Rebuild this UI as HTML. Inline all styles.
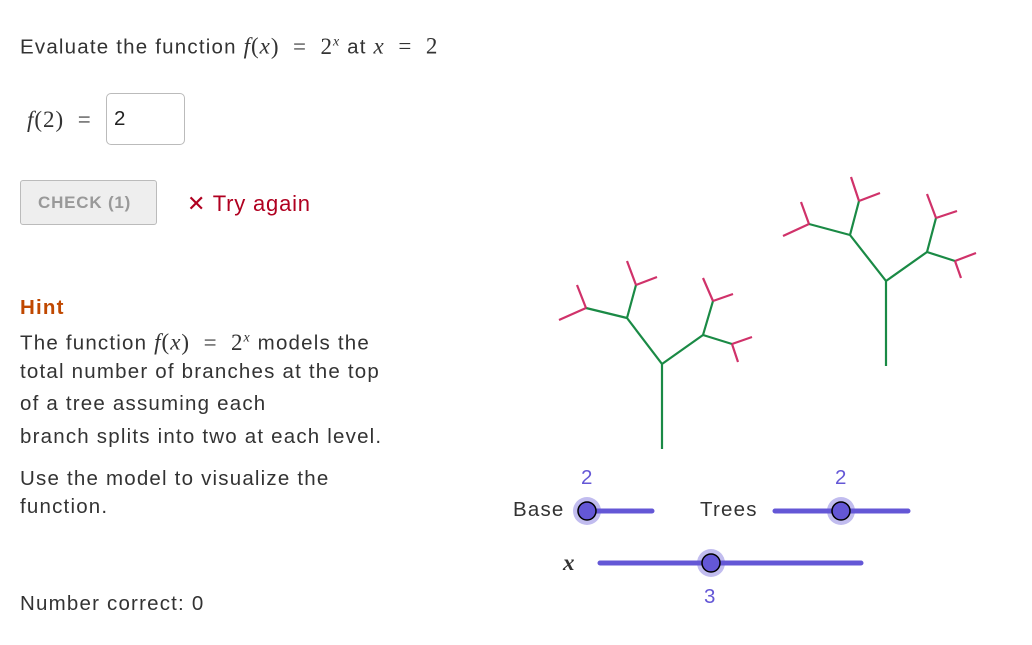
<!DOCTYPE html>
<html><head><meta charset="utf-8"><style>
body{margin:0;width:1032px;height:645px;background:#fff;position:relative;overflow:hidden;font-family:"Liberation Sans",sans-serif;color:#333;}
.t{position:absolute;white-space:nowrap;font-size:20.5px;line-height:24px;letter-spacing:1.2px;}
.m{font-family:"Liberation Serif",serif;font-style:italic;font-size:23px;letter-spacing:1px;}
.r{font-family:"Liberation Serif",serif;font-size:23px;letter-spacing:1px;}
</style></head><body>
<div class="t" style="left:20px;top:30px;">Evaluate the function <span class="m">f</span><span class="r">(</span><span class="m">x</span><span class="r">) &nbsp;= &nbsp;2<sup style="font-size:14px" class="m">x</sup></span> at <span class="m">x</span> <span class="r">&nbsp;= &nbsp;2</span></div>
<div class="t" style="left:27px;top:108px;"><span class="m">f</span><span class="r">(2) &nbsp;=</span></div>
<div style="position:absolute;left:106px;top:93px;width:79px;height:52px;border:1px solid #bbb;border-radius:5px;box-sizing:border-box;"></div>
<div class="t" style="left:114px;top:107px;color:#222;">2</div>
<div style="position:absolute;left:20px;top:180px;width:137px;height:45px;border:1px solid #bbb;border-radius:3px;background:#eee;box-sizing:border-box;"></div>
<div class="t" style="left:38px;top:191px;font-size:17px;font-weight:bold;color:#999;letter-spacing:0.8px;">CHECK (1)</div>
<div class="t" style="left:187px;top:192px;color:#b00020;font-size:22px;letter-spacing:0.8px;">✕ Try again</div>
<div class="t" style="left:20px;top:296px;color:#c04800;font-weight:bold;">Hint</div>
<div class="t" style="left:20px;top:326px;">The function <span class="m">f</span><span class="r">(</span><span class="m">x</span><span class="r">) &nbsp;= &nbsp;2<sup style="font-size:14px" class="m">x</sup></span> models the</div>
<div class="t" style="left:20px;top:360px;">total number of branches at the top</div>
<div class="t" style="left:20px;top:392px;">of a tree assuming each</div>
<div class="t" style="left:20px;top:425px;">branch splits into two at each level.</div>
<div class="t" style="left:20px;top:467px;">Use the model to visualize the</div>
<div class="t" style="left:20px;top:495px;">function.</div>
<div class="t" style="left:20px;top:592px;">Number correct: 0</div>
<svg width="1032" height="645" style="position:absolute;left:0;top:0" stroke-width="2.2" fill="none">
<g stroke="#1a8a45">
<path d="M662 449L662 364L627 318M662 364L703 335M627 318L586 308M627 318L636 285M703 335L713 301M703 335L732 344"/>
<path d="M886 366L886 281L850 235M886 281L927 252M850 235L809 224M850 235L859 201M927 252L936 218M927 252L955 261"/>
</g>
<g stroke="#d0326a">
<path d="M586 308L559 320M586 308L577 285M636 285L627 261M636 285L657 277M713 301L703 278M713 301L733 294M732 344L752 337M732 344L738 362"/>
<path d="M809 224L783 236M809 224L801 202M859 201L851 177M859 201L880 193M936 218L927 194M936 218L957 211M955 261L976 253M955 261L961 278"/>
</g>
<g stroke="#6457d6" stroke-width="5" stroke-linecap="round">
<path d="M587 511L652 511M775 511L908 511M600 563L861 563"/>
</g>
<g fill="#6457d6" stroke="#000" stroke-width="1.5">
<circle cx="587" cy="511" r="14" fill="#6457d6" fill-opacity="0.4" stroke="none"/>
<circle cx="587" cy="511" r="9"/>
<circle cx="841" cy="511" r="14" fill="#6457d6" fill-opacity="0.4" stroke="none"/>
<circle cx="841" cy="511" r="9"/>
<circle cx="711" cy="563" r="14" fill="#6457d6" fill-opacity="0.4" stroke="none"/>
<circle cx="711" cy="563" r="9"/>
</g>
</svg>
<div class="t" style="left:513px;top:498px;">Base</div>
<div class="t" style="left:700px;top:498px;">Trees</div>
<div class="t m" style="left:563px;top:551px;font-weight:bold;">x</div>
<div class="t" style="left:581px;top:466px;color:#6457d6;">2</div>
<div class="t" style="left:835px;top:466px;color:#6457d6;">2</div>
<div class="t" style="left:704px;top:585px;color:#6457d6;">3</div>
</body></html>
